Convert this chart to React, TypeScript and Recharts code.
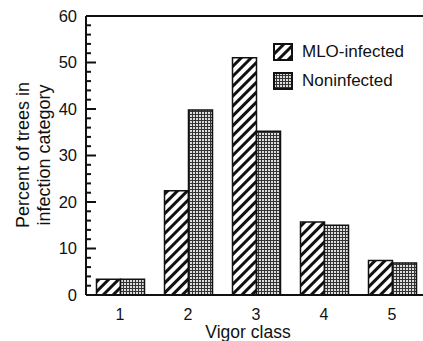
import {Bar, BarChart, ReferenceLine, XAxis, YAxis} from 'recharts'

const vigorClasses = ['1', '2', '3', '4', '5']
const mloInfected = [3.4, 22.4, 51, 15.7, 7.4]
const noninfected = [3.4, 39.8, 35.2, 15, 6.9]
const majorTicks = [0, 10, 20, 30, 40, 50, 60]
const minorTicks = [0, 2, 4, 6, 8, 10, 12, 14, 16, 18, 20, 22, 24, 26, 28, 30, 32, 34, 36, 38, 40, 42, 44, 46, 48, 50, 52, 54, 56, 58, 60]

const data = vigorClasses.map((vigor, i) => ({
    vigor,
    mlo: mloInfected[i],
    non: noninfected[i],
}))

const font = '"Liberation Sans", Arial, sans-serif'
const ink = '#111'

function YTick({x, y, payload}: any) {
    const isMajor = majorTicks.includes(payload.value)
    return (
        <g>
            <line x1={x} x2={x + (isMajor ? 10 : 5)} y1={y} y2={y} stroke={ink} strokeWidth={2}/>
            {isMajor ? (
                <text x={x - 9} y={y} dy="0.36em" textAnchor="end" fontSize={16.5} fill={ink} fontFamily={font}>
                    {payload.value}
                </text>
            ) : null}
        </g>
    )
}

function LegendBox() {
    const rows = [
        {label: 'MLO-infected', fill: 'url(#hatch)'},
        {label: 'Noninfected', fill: 'url(#dots)'},
    ]
    return (
        <div style={{position: 'absolute', left: 273, top: 37, fontFamily: font, fontSize: 17, color: ink}}>
            {rows.map((row) => (
                <div key={row.label} style={{display: 'flex', alignItems: 'center', height: 29}}>
                    <svg width={20} height={18} style={{marginRight: 9}}>
                        <rect x={1} y={1} width={18} height={16} fill={row.fill} stroke={ink} strokeWidth={2}/>
                    </svg>
                    <span>{row.label}</span>
                </div>
            ))}
        </div>
    )
}

export default function App() {
    return (
        <div style={{position: 'absolute', left: 0, top: 0, width: 423, height: 341, overflow: 'hidden', background: '#fff'}}>
            <BarChart
                width={440}
                height={341}
                data={data}
                margin={{top: 16, right: 14, bottom: 0, left: 0}}
                barCategoryGap={10.5}
                barGap={0}
            >
                <defs>
                    <pattern id="hatch" patternUnits="userSpaceOnUse" width={7} height={7} patternTransform="rotate(45)">
                        <rect width={7} height={7} fill="#fff"/>
                        <rect x={0} y={0} width={3} height={7} fill={ink}/>
                    </pattern>
                    <pattern id="dots" patternUnits="userSpaceOnUse" width={3} height={3}>
                        <rect width={3} height={3} fill="#333"/>
                        <rect x={1} y={1} width={2} height={2} fill="#ddd"/>
                    </pattern>
                </defs>
                <XAxis
                    dataKey="vigor"
                    height={46}
                    axisLine={{stroke: ink, strokeWidth: 2}}
                    tickLine={false}
                    tickSize={0}
                    tickMargin={14}
                    tick={{fill: ink, fontSize: 16, fontFamily: font}}
                    label={{
                        content: () => (
                            <text x={248} y={338} textAnchor="middle" fontSize={17.5} fill={ink} fontFamily={font}>
                                Vigor class
                            </text>
                        ),
                    }}
                />
                <YAxis
                    width={86}
                    domain={[0, 60]}
                    ticks={minorTicks}
                    interval={0}
                    axisLine={{stroke: ink, strokeWidth: 2}}
                    tickLine={false}
                    tickSize={0}
                    tickMargin={0}
                    tick={<YTick/>}
                    label={{
                        content: () => (
                            <text transform="translate(0 155) rotate(-90)" textAnchor="middle" fontSize={18} fill={ink} fontFamily={font}>
                                <tspan x={0} y={29}>Percent of trees in</tspan>
                                <tspan x={0} y={50}>infection category</tspan>
                            </text>
                        ),
                    }}
                />
                <ReferenceLine y={60} stroke={ink} strokeWidth={2}/>
                <Bar dataKey="mlo" name="MLO-infected" fill="url(#hatch)" stroke={ink} strokeWidth={1.5} isAnimationActive={false}/>
                <Bar dataKey="non" name="Noninfected" fill="url(#dots)" stroke={ink} strokeWidth={1.5} isAnimationActive={false}/>
            </BarChart>
            <LegendBox/>
        </div>
    )
}
